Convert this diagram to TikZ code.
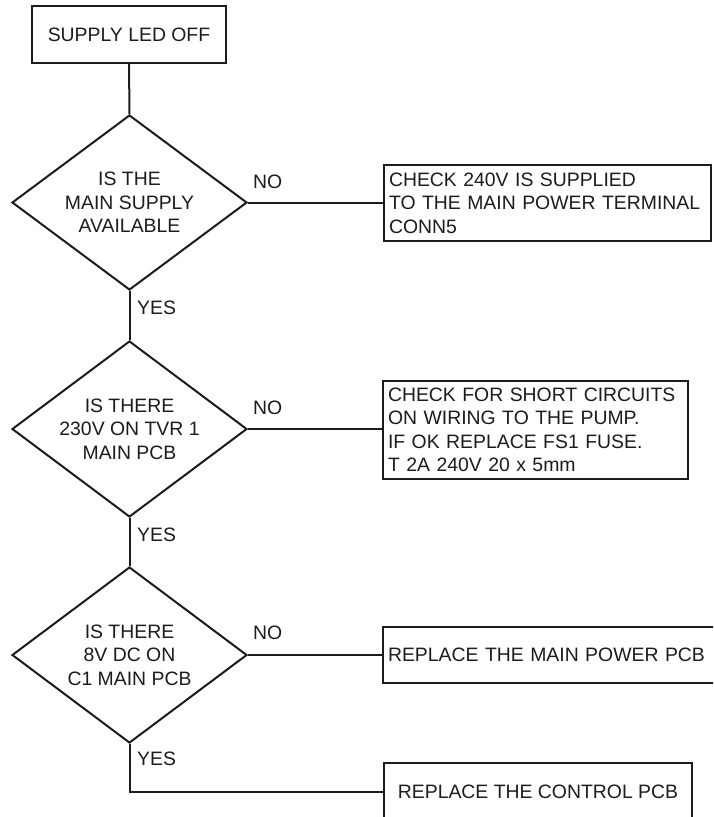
\documentclass[tikz,border=0pt]{standalone}
\usepackage{fontspec}
\setmainfont{Liberation Sans}
\usetikzlibrary{shapes.geometric}
\definecolor{ink}{RGB}{30,27,28}
\begin{document}
\begin{tikzpicture}[x=1pt,y=-1pt,
  every node/.style={text=ink, font=\fontsize{19.4}{23.5}\selectfont},
  line/.style={draw=ink, line width=2pt},
  startbox/.style={draw=ink, line width=2pt, rectangle, inner sep=0pt, align=center},
  decision/.style={draw=ink, line width=2pt, diamond, aspect=1.343, inner sep=0pt, align=center},
  actbox/.style={draw=ink, line width=2pt, rectangle, inner xsep=5pt, inner ysep=0pt, align=left, anchor=west},
  lbl/.style={anchor=west, inner sep=0pt}
]
\clip (0,0) rectangle (713,817);
\fill[white] (0,0) rectangle (713,817);

\node[startbox, minimum width=194pt, minimum height=57pt] (start) at (129,34.5) {SUPPLY LED OFF};

\node[decision, minimum width=235pt, minimum height=175pt] (d1) at (129.5,202.5) {IS THE\\MAIN SUPPLY\\AVAILABLE};
\node[decision, minimum width=235pt, minimum height=176pt] (d2) at (129.5,429) {IS THERE\\230V ON TVR 1\\MAIN PCB};
\node[decision, minimum width=235pt, minimum height=176pt] (d3) at (129.5,655) {IS THERE\\8V DC ON\\C1 MAIN PCB};

\node[actbox, text width=317pt, minimum height=76pt] (b1) at (383,203) {CHECK 240V IS SUPPLIED\\TO THE MAIN POWER TERMINAL\\CONN5};
\node[actbox, text width=295pt, minimum height=98pt] (b2) at (382,430) {CHECK FOR SHORT CIRCUITS\\ON WIRING TO THE PUMP.\\IF OK REPLACE FS1 FUSE.\\T 2A 240V 20 x 5mm};
\node[actbox, text width=337pt, minimum height=56pt] (b3) at (382,655) {REPLACE THE MAIN POWER PCB};
\node[startbox, minimum width=308pt, minimum height=58pt, anchor=west] (b4) at (383,792) {REPLACE THE CONTROL PCB};

\node[lbl] (no1) at (253,182) {NO};
\node[lbl] (no2) at (253,408) {NO};
\node[lbl] (no3) at (253,633) {NO};
\node[lbl] (yes1) at (137,308) {YES};
\node[lbl] (yes2) at (137,535) {YES};
\node[lbl] (yes3) at (137,759) {YES};

\coordinate (corner) at (d3.south |- b4.west);

\draw[line] (start.south) -- (d1.north);
\draw[line] (d1.south) -- (d2.north);
\draw[line] (d2.south) -- (d3.north);
\draw[line] (d3.south) -- (corner) -- (b4.west);
\draw[line] (d1.east) -- (d1.east -| b1.west);
\draw[line] (d2.east) -- (d2.east -| b2.west);
\draw[line] (d3.east) -- (d3.east -| b3.west);
\end{tikzpicture}
\end{document}
